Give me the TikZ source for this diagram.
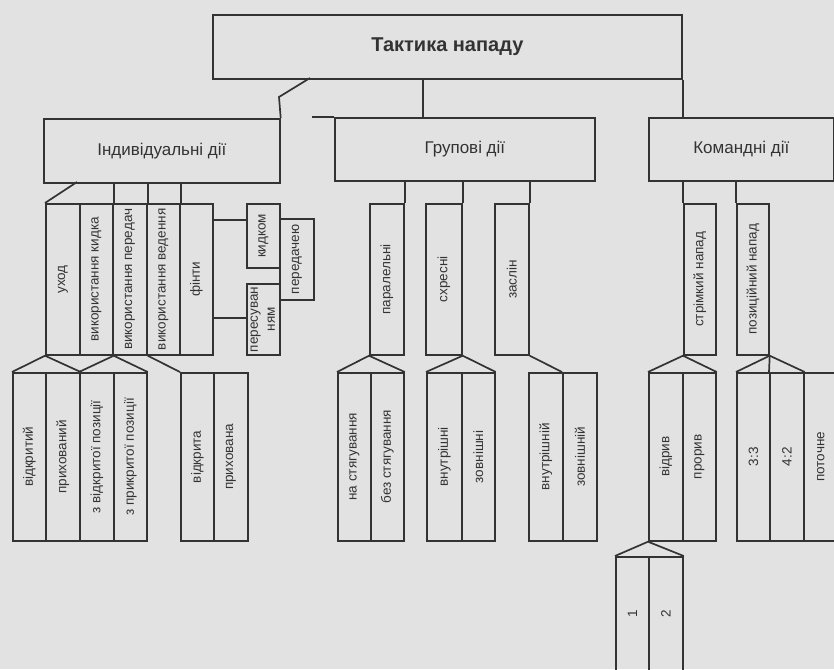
\documentclass[tikz,border=0pt]{standalone}
\usepackage{fontspec}
\setmainfont{Liberation Sans}
\definecolor{paper}{HTML}{E2E2E2}
\definecolor{ink}{HTML}{333333}
\tikzset{
	box/.style={draw=ink, line width=1.7pt, inner sep=0pt, text=ink, anchor=north west},
	head/.style 2 args={box, minimum width=#1, minimum height=#2, font=\fontsize{17}{19}\selectfont},
	cell/.style 2 args={box, minimum width=#1, minimum height=#2, font=\fontsize{13.5}{15}\selectfont},
	link/.style={draw=ink, line width=1.7pt},
}

\begin{document}
\begin{tikzpicture}[x=1pt,y=-1pt]
	
	\useasboundingbox (0,0) rectangle (834,669);
	\fill[paper] (0,0) rectangle (834,669);
	\clip (0,0) rectangle (834,669);
	
	% top and the three kinds of actions
	\node[head={469}{64}] (tactics) at (212,14) {\fontsize{20}{22}\selectfont\bfseries Тактика нападу};
	\node[head={236}{64}] (indiv) at (43,118) {Індивідуальні дії};
	\node[head={260}{63}] (group) at (334,117) {Групові дії};
	\node[head={185}{63}] (team) at (648,117) {Командні дії};
	
	\coordinate (ind-in) at (310,78);
	\coordinate (ind-bend) at (279,97);
	\coordinate (grp-in) at (423,117);
	\coordinate (grp-stub) at (312,117);
	\draw[link] (ind-in) -- (ind-bend) -- (indiv.north east);
	\draw[link] (grp-in |- tactics.south) -- (grp-in);
	\draw[link] (grp-stub) -- (group.north west);
	\draw[link] (tactics.south east) -- (tactics.south east |- team.north);
	
	% individual actions
	\node[cell={34}{151}] (ukhod) at (45,203) {\rotatebox{90}{уход}};
	\node[cell={33}{151}] (kydok) at (79,203) {\rotatebox{90}{використання кидка}};
	\node[cell={34}{151}] (peredach) at (112,203) {\rotatebox{90}{використання передач}};
	\node[cell={33}{151}] (veden) at (146,203) {\rotatebox{90}{використання ведення}};
	\node[cell={33}{151}] (finty) at (179,203) {\rotatebox{90}{фінти}};
	\node[cell={33}{64}] (kydkom) at (246,203) {\rotatebox{90}{кидком}};
	\node[cell={34}{81}] (peredacheiu) at (279,218) {\rotatebox{90}{передачею}};
	\node[cell={33}{71}] (peresuv) at (246,283) {\rotatebox{90}{\begin{tabular}{@{}c@{}}пересуван\\[2pt]ням\end{tabular}}};
	
	\coordinate (ind-out) at (77,182);
	\draw[link] (ind-out) -- (ukhod.north west);
	\foreach \c in {kydok, peredach, veden}
		\draw[link] (\c.north east |- indiv.south) -- (\c.north east);
	\draw[link] ([yshift=-17pt]finty.north east) -- ([yshift=-17pt]finty.north east -| kydkom.west);
	\draw[link] ([yshift=38pt]finty.south east) -- ([yshift=38pt]finty.south east -| peresuv.west);
	
	\node[cell={33}{168}] (vidkrytyi) at (12,372) {\rotatebox{90}{відкритий}};
	\node[cell={34}{168}] (prykhovanyi) at (45,372) {\rotatebox{90}{прихований}};
	\node[cell={34}{168}] (zvidkr) at (79,372) {\rotatebox{90}{з відкритої позиції}};
	\node[cell={33}{168}] (zprykr) at (113,372) {\rotatebox{90}{з прикритої позиції}};
	\node[cell={33}{168}] (vidkryta) at (180,372) {\rotatebox{90}{відкрита}};
	\node[cell={34}{168}] (prykhovana) at (213,372) {\rotatebox{90}{прихована}};
	
	\draw[link] (vidkrytyi.north west) -- (ukhod.south west) -- (prykhovanyi.north east);
	\draw[link] (zvidkr.north west) -- (kydok.south east) -- (zprykr.north east);
	\draw[link] (peredach.south east) -- (vidkryta.north west);
	
	% group actions
	\node[cell={34}{151}] (paral) at (369,203) {\rotatebox{90}{паралельні}};
	\node[cell={36}{151}] (skhres) at (425,203) {\rotatebox{90}{схресні}};
	\node[cell={34}{151}] (zaslin) at (494,203) {\rotatebox{90}{заслін}};
	\foreach \c in {paral, skhres, zaslin}
		\draw[link] (\c.north east |- group.south) -- (\c.north east);
	
	\node[cell={33}{168}] (nastiag) at (337,372) {\rotatebox{90}{на стягування}};
	\node[cell={33}{168}] (bezstiag) at (370,372) {\rotatebox{90}{без стягування}};
	\node[cell={35}{168}] (vnutr) at (426,372) {\rotatebox{90}{внутрішні}};
	\node[cell={33}{168}] (zovn) at (461,372) {\rotatebox{90}{зовнішні}};
	\node[cell={34}{168}] (vnutrz) at (528,372) {\rotatebox{90}{внутрішній}};
	\node[cell={34}{168}] (zovnz) at (562,372) {\rotatebox{90}{зовнішній}};
	
	\draw[link] (nastiag.north west) -- (paral.south west) -- (bezstiag.north east);
	\draw[link] (vnutr.north west) -- (skhres.south east) -- (zovn.north east);
	\draw[link] (zaslin.south east) -- (zovnz.north west);
	
	% team actions
	\node[cell={32}{151}] (strimk) at (683,203) {\rotatebox{90}{стрімкий напад}};
	\node[cell={32}{151}] (pozyts) at (736,203) {\rotatebox{90}{позиційний напад}};
	\foreach \c in {strimk, pozyts}
		\draw[link] (\c.north west |- team.south) -- (\c.north west);
	
	\node[cell={34}{168}] (vidryv) at (648,372) {\rotatebox{90}{відрив}};
	\node[cell={33}{168}] (proryv) at (682,372) {\rotatebox{90}{прорив}};
	\node[cell={33}{168}] (sthree) at (736,372) {\rotatebox{90}{3:3}};
	\node[cell={34}{168}] (sfour) at (769,372) {\rotatebox{90}{4:2}};
	\node[cell={34}{168}] (potochne) at (803,372) {\rotatebox{90}{поточне}};
	\node[cell={33}{114}] (one) at (615,556) {\rotatebox{90}{1}};
	\node[cell={34}{114}] (two) at (648,556) {\rotatebox{90}{2}};
	
	\draw[link] (vidryv.north west) -- (strimk.south west) -- (proryv.north east);
	\draw[link] (sthree.north west) -- (pozyts.south east) -- (sfour.north east);
	\draw[link] (pozyts.south east) -- (sfour.north west);
	\draw[link] (one.north west) -- (vidryv.south west) -- (two.north east);
	
\end{tikzpicture}
\end{document}
